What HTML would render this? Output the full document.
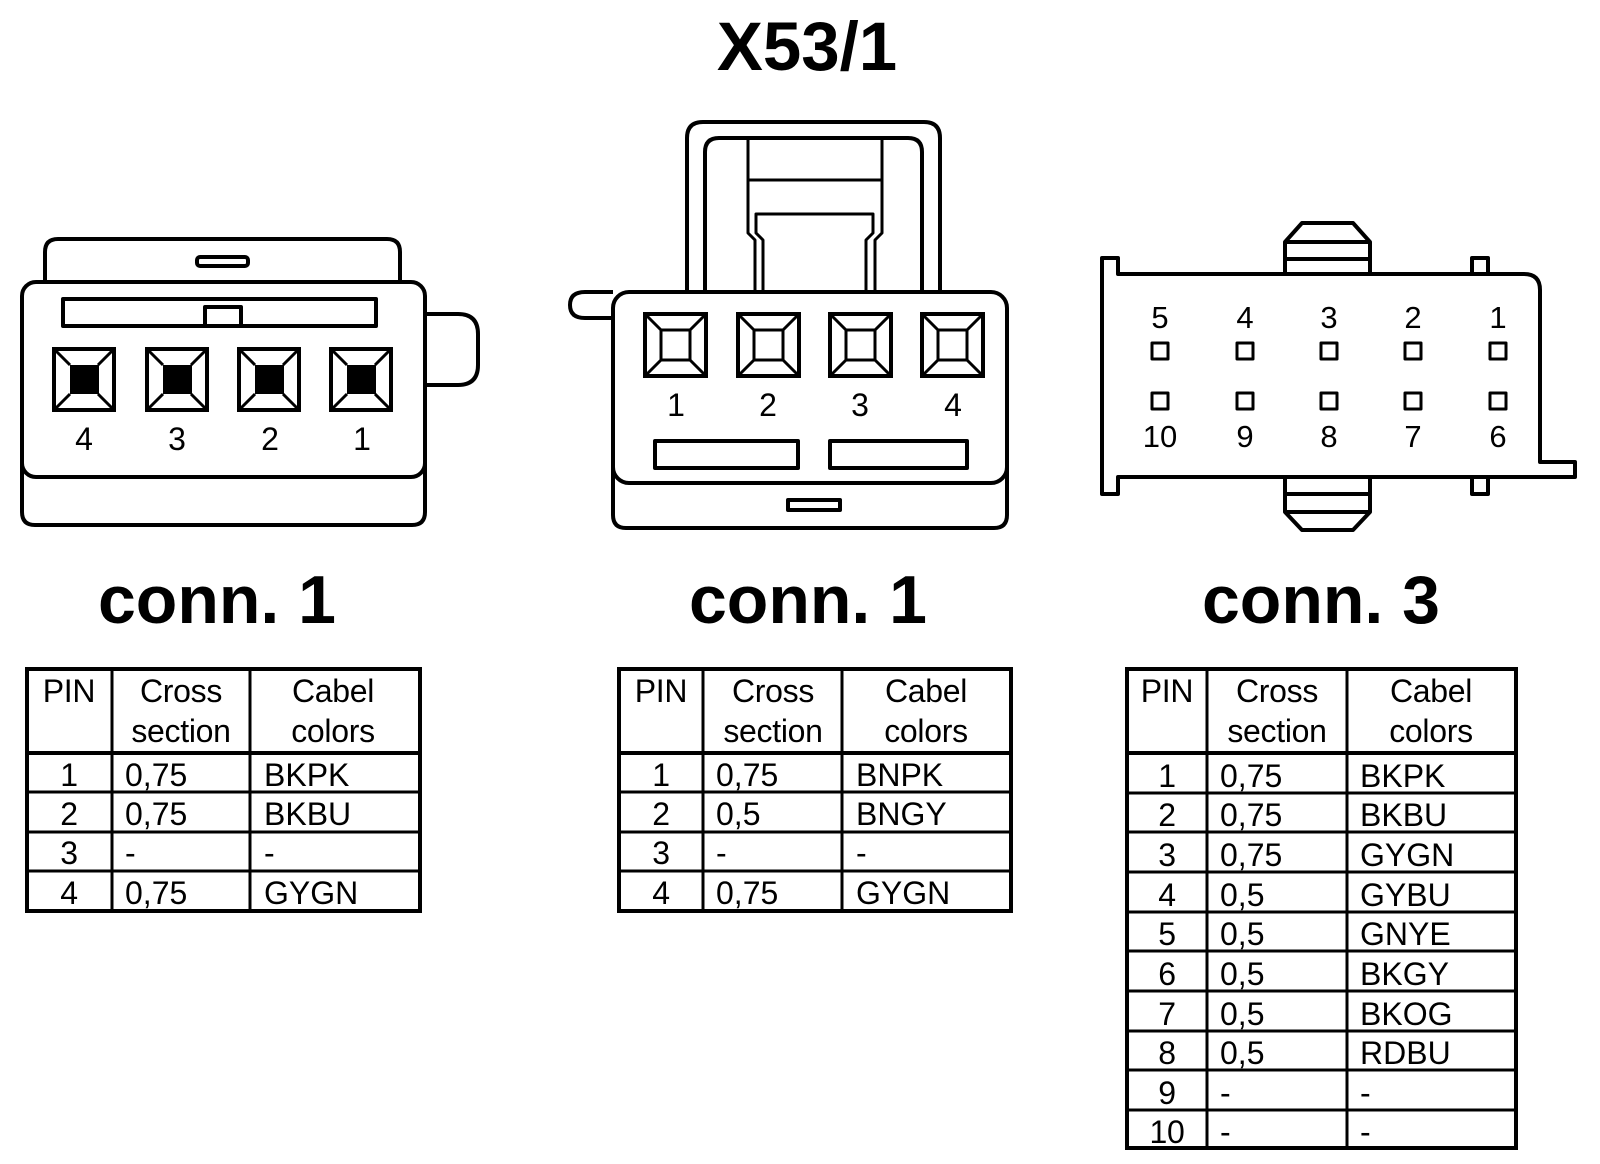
<!DOCTYPE html>
<html><head><meta charset="utf-8"><style>
html,body{margin:0;padding:0;background:#fff}
svg{display:block}
text{font-family:"Liberation Sans",Arial,sans-serif;fill:#000}
</style></head><body>
<svg width="1600" height="1164" viewBox="0 0 1600 1164" xmlns="http://www.w3.org/2000/svg">
<g fill="none" stroke="#000" stroke-width="4" stroke-linejoin="round">
<path d="M45,282 V252 Q45,239 58,239 H387 Q400,239 400,252 V282"/>
<rect x="197" y="257" width="51" height="9" rx="3"/>
<path d="M22,460 V512 Q22,525 35,525 H412 Q425,525 425,512 V460"/>
<rect x="22" y="282" width="403" height="195" rx="14" fill="#fff"/>
<rect x="63" y="299" width="313" height="27"/>
<rect x="205" y="307" width="36" height="19"/>
<path d="M425,314 H458 Q478,314 478,334 V365 Q478,385 458,385 H425"/>
<path d="M687,292 V138 Q687,122 703,122 H924 Q940,122 940,138 V292"/>
<path d="M705,292 V152 Q705,138 719,138 H908 Q922,138 922,152 V292"/>
<path d="M748,138 V233 L755,240 V292" stroke-width="3"/>
<path d="M882,138 V233 L875,240 V292" stroke-width="3"/>
<path d="M748,180 H882" stroke-width="3"/>
<path d="M763,292 V240 L756,233 V214 H873 V233 L866,240 V292" stroke-width="3"/>
<path d="M613,292 H585 Q570,292 570,305 Q570,318 585,318 H613"/>
<path d="M613,460 V515 Q613,528 626,528 H994 Q1007,528 1007,515 V460"/>
<rect x="613" y="292" width="394" height="191" rx="16" fill="#fff"/>
<rect x="655" y="441" width="143" height="27"/>
<rect x="830" y="441" width="137" height="27"/>
<rect x="788" y="500" width="52" height="10"/>
<path d="M1285,274 V242 L1302,223 H1353 L1370,242 V274 M1285,242 H1370 M1285,259 H1370"/>
<path d="M1285,477 V512 L1302,530 H1353 L1370,512 V477 M1285,494 H1370 M1285,512 H1370"/>
<rect x="1472" y="258" width="16" height="16"/>
<rect x="1472" y="477" width="16" height="17"/>
<path d="M1102,258 H1118 V274 H1524 Q1540,274 1540,290 V462 H1575 V477 H1118 V494 H1102 Z" fill="#fff"/>
<g stroke-width="3">
<rect x="1152" y="343" width="16" height="16"/><rect x="1237" y="343" width="16" height="16"/><rect x="1321" y="343" width="16" height="16"/><rect x="1405" y="343" width="16" height="16"/><rect x="1490" y="343" width="16" height="16"/>
<rect x="1152" y="393" width="16" height="16"/><rect x="1237" y="393" width="16" height="16"/><rect x="1321" y="393" width="16" height="16"/><rect x="1405" y="393" width="16" height="16"/><rect x="1490" y="393" width="16" height="16"/>
</g>
</g>
<defs>
<g id="pinB">
<rect x="0" y="0" width="60" height="61" fill="#fff" stroke="#000" stroke-width="4"/>
<rect x="16" y="16" width="29" height="29" fill="#000"/>
<path d="M2,2 L16,16 M58,2 L44,16 M2,59 L16,45 M58,59 L44,45" stroke="#000" stroke-width="3"/>
</g>
<g id="pinW">
<rect x="0" y="0" width="61" height="62" fill="#fff" stroke="#000" stroke-width="4"/>
<rect x="16" y="16" width="29" height="30" fill="none" stroke="#000" stroke-width="3"/>
<path d="M2,2 L16,16 M59,2 L45,16 M2,60 L16,46 M59,60 L45,46" stroke="#000" stroke-width="3"/>
</g>
</defs>
<use href="#pinB" x="54" y="349"/><use href="#pinB" x="147" y="349"/><use href="#pinB" x="239" y="349"/><use href="#pinB" x="331" y="349"/>
<use href="#pinW" x="645" y="314"/><use href="#pinW" x="738" y="314"/><use href="#pinW" x="830" y="314"/><use href="#pinW" x="922" y="314"/>
<g font-size="32" text-anchor="middle">
<text x="84" y="450">4</text><text x="177" y="450">3</text><text x="270" y="450">2</text><text x="362" y="450">1</text>
<text x="676" y="416">1</text><text x="768" y="416">2</text><text x="860" y="416">3</text><text x="953" y="416">4</text>
</g>
<g font-size="31" text-anchor="middle">
<text x="1160" y="328">5</text><text x="1245" y="328">4</text><text x="1329" y="328">3</text><text x="1413" y="328">2</text><text x="1498" y="328">1</text>
<text x="1160" y="447">10</text><text x="1245" y="447">9</text><text x="1329" y="447">8</text><text x="1413" y="447">7</text><text x="1498" y="447">6</text>
</g>
<g font-weight="bold" text-anchor="middle">
<text x="807" y="70" font-size="69">X53/1</text>
<text x="217" y="623" font-size="68">conn. 1</text>
<text x="808" y="623" font-size="68">conn. 1</text>
<text x="1321" y="623" font-size="68">conn. 3</text>
</g>
<g stroke="#000" fill="none">
<rect x="27" y="669" width="393" height="242" stroke-width="4"/>
<path d="M112,669 V911 M250,669 V911" stroke-width="3"/>
<path d="M27,753 H420" stroke-width="4"/>
<path d="M27,792 H420 M27,832 H420 M27,871 H420" stroke-width="3"/>
</g>
<g font-size="32">
<g text-anchor="middle" letter-spacing="-0.3"><text x="69" y="702">PIN</text><text x="181" y="702">Cross</text><text x="181" y="742">section</text><text x="333" y="702">Cabel</text><text x="333" y="742">colors</text>
<text x="69" y="786">1</text><text x="69" y="825">2</text><text x="69" y="864">3</text><text x="69" y="904">4</text></g>
<text x="125" y="786">0,75</text><text x="125" y="825">0,75</text><text x="125" y="864">-</text><text x="125" y="904">0,75</text>
<text x="264" y="786">BKPK</text><text x="264" y="825">BKBU</text><text x="264" y="864">-</text><text x="264" y="904">GYGN</text>
</g>
<g stroke="#000" fill="none">
<rect x="619" y="669" width="392" height="242" stroke-width="4"/>
<path d="M703,669 V911 M842,669 V911" stroke-width="3"/>
<path d="M619,753 H1011" stroke-width="4"/>
<path d="M619,792 H1011 M619,832 H1011 M619,871 H1011" stroke-width="3"/>
</g>
<g font-size="32">
<g text-anchor="middle" letter-spacing="-0.3"><text x="661" y="702">PIN</text><text x="773" y="702">Cross</text><text x="773" y="742">section</text><text x="926" y="702">Cabel</text><text x="926" y="742">colors</text>
<text x="661" y="786">1</text><text x="661" y="825">2</text><text x="661" y="864">3</text><text x="661" y="904">4</text></g>
<text x="716" y="786">0,75</text><text x="716" y="825">0,5</text><text x="716" y="864">-</text><text x="716" y="904">0,75</text>
<text x="856" y="786">BNPK</text><text x="856" y="825">BNGY</text><text x="856" y="864">-</text><text x="856" y="904">GYGN</text>
</g>
<g stroke="#000" fill="none">
<rect x="1127" y="669" width="389" height="479" stroke-width="4"/>
<path d="M1207,669 V1148 M1347,669 V1148" stroke-width="3"/>
<path d="M1127,753 H1516" stroke-width="4"/>
<path d="M1127,793 H1516 M1127,832 H1516 M1127,872 H1516 M1127,912 H1516 M1127,951 H1516 M1127,991 H1516 M1127,1031 H1516 M1127,1070 H1516 M1127,1110 H1516" stroke-width="3"/>
</g>
<g font-size="32">
<g text-anchor="middle" letter-spacing="-0.3"><text x="1167" y="702">PIN</text><text x="1277" y="702">Cross</text><text x="1277" y="742">section</text><text x="1431" y="702">Cabel</text><text x="1431" y="742">colors</text>
<text x="1167" y="787">1</text><text x="1167" y="826">2</text><text x="1167" y="866">3</text><text x="1167" y="906">4</text><text x="1167" y="945">5</text><text x="1167" y="985">6</text><text x="1167" y="1025">7</text><text x="1167" y="1064">8</text><text x="1167" y="1104">9</text><text x="1167" y="1143">10</text></g>
<text x="1220" y="787">0,75</text><text x="1220" y="826">0,75</text><text x="1220" y="866">0,75</text><text x="1220" y="906">0,5</text><text x="1220" y="945">0,5</text><text x="1220" y="985">0,5</text><text x="1220" y="1025">0,5</text><text x="1220" y="1064">0,5</text><text x="1220" y="1104">-</text><text x="1220" y="1143">-</text>
<text x="1360" y="787">BKPK</text><text x="1360" y="826">BKBU</text><text x="1360" y="866">GYGN</text><text x="1360" y="906">GYBU</text><text x="1360" y="945">GNYE</text><text x="1360" y="985">BKGY</text><text x="1360" y="1025">BKOG</text><text x="1360" y="1064">RDBU</text><text x="1360" y="1104">-</text><text x="1360" y="1143">-</text>
</g>
</svg>
</body></html>
